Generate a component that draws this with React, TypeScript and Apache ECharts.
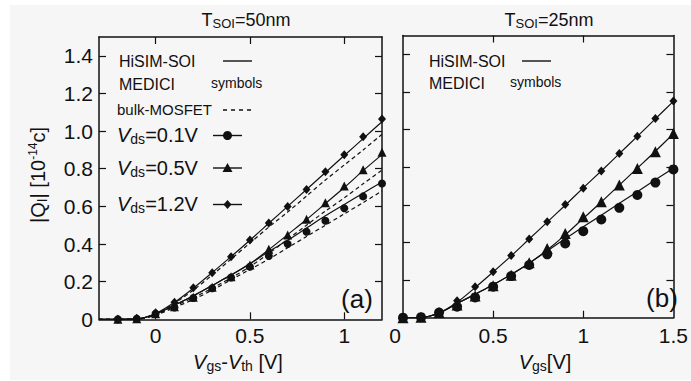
import React, { useEffect, useRef } from "react";
import * as echarts from "echarts";

// ---------- data ----------
// Panel (a): T_SOI = 50nm, x = Vgs - Vth
const medXLeft = [-0.2, -0.1, 0, 0.1, 0.2, 0.3, 0.4, 0.5, 0.6, 0.7, 0.8, 0.9, 1.0, 1.1, 1.2];
const medLeft01 = [0, 0.003, 0.03, 0.063, 0.113, 0.165, 0.222, 0.279, 0.336, 0.4, 0.465, 0.524, 0.59, 0.653, 0.722];
const medLeft05 = [0, 0.003, 0.03, 0.067, 0.117, 0.17, 0.226, 0.288, 0.372, 0.448, 0.531, 0.619, 0.708, 0.795, 0.887];
const medLeft12 = [0, 0.005, 0.035, 0.09, 0.168, 0.248, 0.333, 0.421, 0.512, 0.6, 0.69, 0.784, 0.875, 0.97, 1.064];

const lineXLeft = [-0.3, -0.2, -0.1, 0, 0.1, 0.2, 0.3, 0.4, 0.5, 0.6, 0.7, 0.8, 0.9, 1.0, 1.1, 1.2];
const hisimLeft01 = [0, 0, 0.002, 0.028, 0.075, 0.125, 0.18, 0.235, 0.295, 0.36, 0.42, 0.485, 0.55, 0.61, 0.67, 0.73];
const hisimLeft05 = [0, 0, 0.002, 0.028, 0.075, 0.125, 0.18, 0.235, 0.295, 0.37, 0.45, 0.53, 0.615, 0.7, 0.79, 0.875];
const hisimLeft12 = [0, 0, 0.002, 0.03, 0.09, 0.165, 0.248, 0.333, 0.42, 0.51, 0.6, 0.69, 0.78, 0.87, 0.96, 1.05];
const bulkLeft01 = [0, 0, 0.001, 0.022, 0.063, 0.105, 0.155, 0.21, 0.265, 0.32, 0.38, 0.44, 0.5, 0.56, 0.62, 0.682];
const bulkLeft05 = [0, 0, 0.001, 0.025, 0.07, 0.115, 0.165, 0.22, 0.28, 0.35, 0.425, 0.5, 0.575, 0.645, 0.72, 0.793];
const bulkLeft12 = [0, 0, 0.001, 0.025, 0.085, 0.155, 0.235, 0.32, 0.405, 0.49, 0.57, 0.655, 0.74, 0.82, 0.9, 0.983];

// Panel (b): T_SOI = 25nm, x = Vgs
const medXRight = [0, 0.1, 0.2, 0.3, 0.4, 0.5, 0.6, 0.7, 0.8, 0.9, 1.0, 1.1, 1.2, 1.3, 1.4, 1.5];
const medRight01 = [0, 0.003, 0.027, 0.058, 0.108, 0.165, 0.221, 0.28, 0.337, 0.395, 0.46, 0.522, 0.584, 0.652, 0.718, 0.788];
const medRight05 = [0, 0.003, 0.027, 0.068, 0.115, 0.17, 0.225, 0.292, 0.368, 0.448, 0.536, 0.616, 0.705, 0.793, 0.882, 0.979];
const medRight12 = [0, 0.003, 0.027, 0.09, 0.165, 0.244, 0.33, 0.418, 0.51, 0.602, 0.688, 0.78, 0.873, 0.965, 1.059, 1.152];

const lineXRight = [0, 0.1, 0.2, 0.3, 0.4, 0.5, 0.6, 0.7, 0.8, 0.9, 1.0, 1.1, 1.2, 1.3, 1.4, 1.5];
const hisimRight01 = [0, 0.001, 0.025, 0.075, 0.125, 0.175, 0.23, 0.29, 0.355, 0.42, 0.483, 0.545, 0.608, 0.67, 0.733, 0.795];
const hisimRight05 = [0, 0.001, 0.025, 0.075, 0.125, 0.175, 0.23, 0.29, 0.36, 0.44, 0.528, 0.615, 0.705, 0.795, 0.885, 0.978];
const hisimRight12 = [0, 0.001, 0.025, 0.082, 0.16, 0.243, 0.328, 0.418, 0.508, 0.598, 0.69, 0.78, 0.872, 0.964, 1.057, 1.15];

const xTicksLeft = [0, 0.5, 1];
const xTicksRight = [0.5, 1];
const xLabelsRight = [0, 0.5, 1, 1.5];
const yTicks = [0.2, 0.4, 0.6, 0.8, 1.0, 1.2, 1.4];
const yLabels = [0, 0.2, 0.4, 0.6, 0.8, 1.0, 1.2, 1.4];

// ---------- styling ----------
const FONT = '"Liberation Sans", Arial, Helvetica, sans-serif';
const INK = "#111";

const zip = (xs: number[], ys: number[]) => xs.map((x, i) => [x, ys[i]]);

function axisBase(extra: any) {
  return {
    type: "value",
    splitLine: { show: false },
    axisLine: { show: true, onZero: false, lineStyle: { color: INK, width: 1.5 } },
    axisTick: { show: true, inside: true, length: 7, lineStyle: { color: INK, width: 1.2 } },
    axisLabel: { show: false },
    ...extra,
  };
}

function tickOnly(ticks: number[]) {
  return { show: true, inside: true, length: 7, customValues: ticks, lineStyle: { color: INK, width: 1.2 } };
}

const labelStyle = (vals: number[], fmt: (v: number) => string, margin: number) => ({
  show: true,
  customValues: vals,
  formatter: fmt,
  fontSize: 21,
  fontFamily: FONT,
  color: INK,
  margin,
  showMinLabel: true,
  showMaxLabel: true,
  rich: {
    z: { fontSize: 21, fontFamily: FONT, color: INK, padding: [0, 16, 0, 0] },
  },
});

const fmtX = (v: number) => (v === 0 ? "0" : String(Math.round(v * 10) / 10));
const fmtXRight = (v: number) => (v === 0 ? "{z|0}" : String(Math.round(v * 10) / 10));
const fmtY = (v: number) => (v === 0 ? "0" : v.toFixed(1));

function lineSeries(xi: number, xs: number[], ys: number[], dashed: boolean) {
  return {
    type: "line",
    xAxisIndex: xi,
    yAxisIndex: xi,
    data: zip(xs, ys),
    smooth: 0.3,
    showSymbol: false,
    symbol: "none",
    lineStyle: { color: INK, width: 1.2, type: dashed ? [4, 3] : "solid" },
    z: 3,
  };
}

function scatterSeries(xi: number, xs: number[], ys: number[], symbol: string, size: any) {
  return {
    type: "scatter",
    xAxisIndex: xi,
    yAxisIndex: xi,
    data: zip(xs, ys),
    symbol,
    symbolSize: size,
    itemStyle: { color: INK, opacity: 1 },
    clip: false,
    z: 5,
  };
}

// rich text helpers
const richBase = (size: number) => ({
  n: { fontSize: size, fontFamily: FONT, lineHeight: size + 2 },
  i: { fontSize: size, fontFamily: FONT, fontStyle: "italic", lineHeight: size + 2 },
  s: { fontSize: Math.round(size * 0.72), fontFamily: FONT, lineHeight: Math.round(size * 0.6), verticalAlign: "bottom" },
  p: { fontSize: Math.round(size * 0.62), fontFamily: FONT, lineHeight: Math.round(size * 0.5), verticalAlign: "top" },
});

function txt(x: number, y: number, text: string, size: number, opts: any = {}) {
  return {
    type: "text",
    x,
    y,
    rotation: opts.rotation || 0,
    silent: true,
    z: 10,
    style: {
      text,
      fill: INK,
      fontSize: size,
      fontFamily: FONT,
      fontStyle: opts.italic ? "italic" : "normal",
      align: opts.align || "left",
      verticalAlign: "middle",
      rich: richBase(size),
    },
  };
}

function legendLine(x1: number, x2: number, y: number, dashed: boolean) {
  return {
    type: "line",
    silent: true,
    z: 10,
    shape: { x1, y1: y, x2, y2: y },
    style: { stroke: INK, lineWidth: 1.4, lineDash: dashed ? [4, 4] : null },
  };
}

function legendMarker(kind: string, cx: number, cy: number) {
  if (kind === "circle") {
    return { type: "circle", silent: true, z: 11, shape: { cx, cy, r: 4.5 }, style: { fill: INK } };
  }
  if (kind === "triangle") {
    return {
      type: "polygon",
      silent: true,
      z: 11,
      shape: { points: [[cx, cy - 5], [cx + 5, cy + 4], [cx - 5, cy + 4]] },
      style: { fill: INK },
    };
  }
  return {
    type: "polygon",
    silent: true,
    z: 11,
    shape: { points: [[cx, cy - 4.5], [cx + 4, cy], [cx, cy + 4.5], [cx - 4, cy]] },
    style: { fill: INK },
  };
}

export default function App() {
  const ref = useRef<HTMLDivElement>(null);

  useEffect(() => {
    if (!ref.current) return;
    const chart = echarts.init(ref.current, undefined, { renderer: "svg" });

    const option: any = {
      animation: false,
      backgroundColor: "#ffffff",
      grid: [
        { left: 99, top: 37, width: 283, height: 282.3, containLabel: false },
        { left: 403, top: 35.5, width: 283, height: 282.2, containLabel: false },
      ],
      xAxis: [
        axisBase({
          gridIndex: 0, position: "bottom", min: -0.3, max: 1.2,
          axisTick: tickOnly(xTicksLeft),
          axisLabel: labelStyle(xTicksLeft, fmtX, 6),
        }),
        axisBase({ gridIndex: 0, position: "top", min: -0.3, max: 1.2, axisTick: tickOnly(xTicksLeft) }),
        axisBase({
          gridIndex: 1, position: "bottom", min: 0, max: 1.5,
          axisTick: tickOnly(xTicksRight),
          axisLabel: labelStyle(xLabelsRight, fmtXRight, 7),
        }),
        axisBase({ gridIndex: 1, position: "top", min: 0, max: 1.5, axisTick: tickOnly(xTicksRight) }),
      ],
      yAxis: [
        axisBase({
          gridIndex: 0, position: "left", min: 0, max: 1.5,
          axisTick: tickOnly(yTicks),
          axisLabel: labelStyle(yLabels, fmtY, 6),
        }),
        axisBase({ gridIndex: 0, position: "right", min: 0, max: 1.5, axisTick: tickOnly(yTicks) }),
        axisBase({ gridIndex: 1, position: "left", min: 0, max: 1.5, axisTick: tickOnly(yTicks) }),
        axisBase({ gridIndex: 1, position: "right", min: 0, max: 1.5, axisTick: tickOnly(yTicks) }),
      ],
      series: [
        lineSeries(0, lineXLeft, bulkLeft01, true),
        lineSeries(0, lineXLeft, bulkLeft05, true),
        lineSeries(0, lineXLeft, bulkLeft12, true),
        lineSeries(0, lineXLeft, hisimLeft01, false),
        lineSeries(0, lineXLeft, hisimLeft05, false),
        lineSeries(0, lineXLeft, hisimLeft12, false),
        scatterSeries(0, medXLeft, medLeft01, "circle", 8),
        scatterSeries(0, medXLeft, medLeft05, "triangle", 9),
        scatterSeries(0, medXLeft, medLeft12, "diamond", [8, 9]),
        lineSeries(2, lineXRight, hisimRight01, false),
        lineSeries(2, lineXRight, hisimRight05, false),
        lineSeries(2, lineXRight, hisimRight12, false),
        scatterSeries(2, medXRight, medRight01, "circle", 10),
        scatterSeries(2, medXRight, medRight05, "triangle", 11),
        scatterSeries(2, medXRight, medRight12, "diamond", [8, 9]),
      ],
      graphic: [
        {
          type: "rect",
          silent: true,
          z: -100,
          shape: { x: 10, y: 5, width: 681, height: 375 },
          style: { fill: "#f6f6f6" },
        },
        // titles
        txt(246, 20, "{n|T}{s|SOI}{n|=50nm}", 18, { align: "center" }),
        txt(549, 20, "{n|T}{s|SOI}{n|=25nm}", 18, { align: "center" }),
        // axis names
        txt(38, 175, "{n||Q}{s|I}{n|| [10}{p|-14}{n|c]}", 20, { align: "center", rotation: Math.PI / 2 }),
        txt(238, 362, "{i|V}{s|gs}{n|-}{i|V}{s|th}{n| [V]}", 20, { align: "center" }),
        txt(545, 362, "{i|V}{s|gs}{n|[V]}", 20, { align: "center" }),
        // panel tags
        txt(357, 299, "(a)", 26, { align: "center" }),
        txt(662, 298, "(b)", 26, { align: "center" }),
        // legend (a)
        txt(119, 61, "HiSIM-SOI", 16),
        legendLine(223, 252, 61, false),
        txt(119, 84, "MEDICI", 16),
        txt(211, 83, "symbols", 14),
        txt(117, 109, "bulk-MOSFET", 15),
        legendLine(223, 252, 110, true),
        txt(117, 135, "{i|V}{s|ds}{n|=0.1V}", 20),
        legendLine(213, 242, 135.5, false),
        legendMarker("circle", 227.5, 135.5),
        txt(117, 168, "{i|V}{s|ds}{n|=0.5V}", 20),
        legendLine(213, 242, 168, false),
        legendMarker("triangle", 227.5, 168),
        txt(117, 204, "{i|V}{s|ds}{n|=1.2V}", 20),
        legendLine(213, 242, 204.5, false),
        legendMarker("diamond", 227.5, 204.5),
        // legend (b)
        txt(429, 61, "HiSIM-SOI", 16),
        legendLine(522, 551, 61, false),
        txt(429, 83, "MEDICI", 16),
        txt(510, 82, "symbols", 14),
      ],
    };

    chart.setOption(option);
    return () => chart.dispose();
  }, []);

  return (
    <div
      ref={ref}
      style={{ position: "fixed", left: 0, top: 0, width: 691, height: 381 }}
    />
  );
}
